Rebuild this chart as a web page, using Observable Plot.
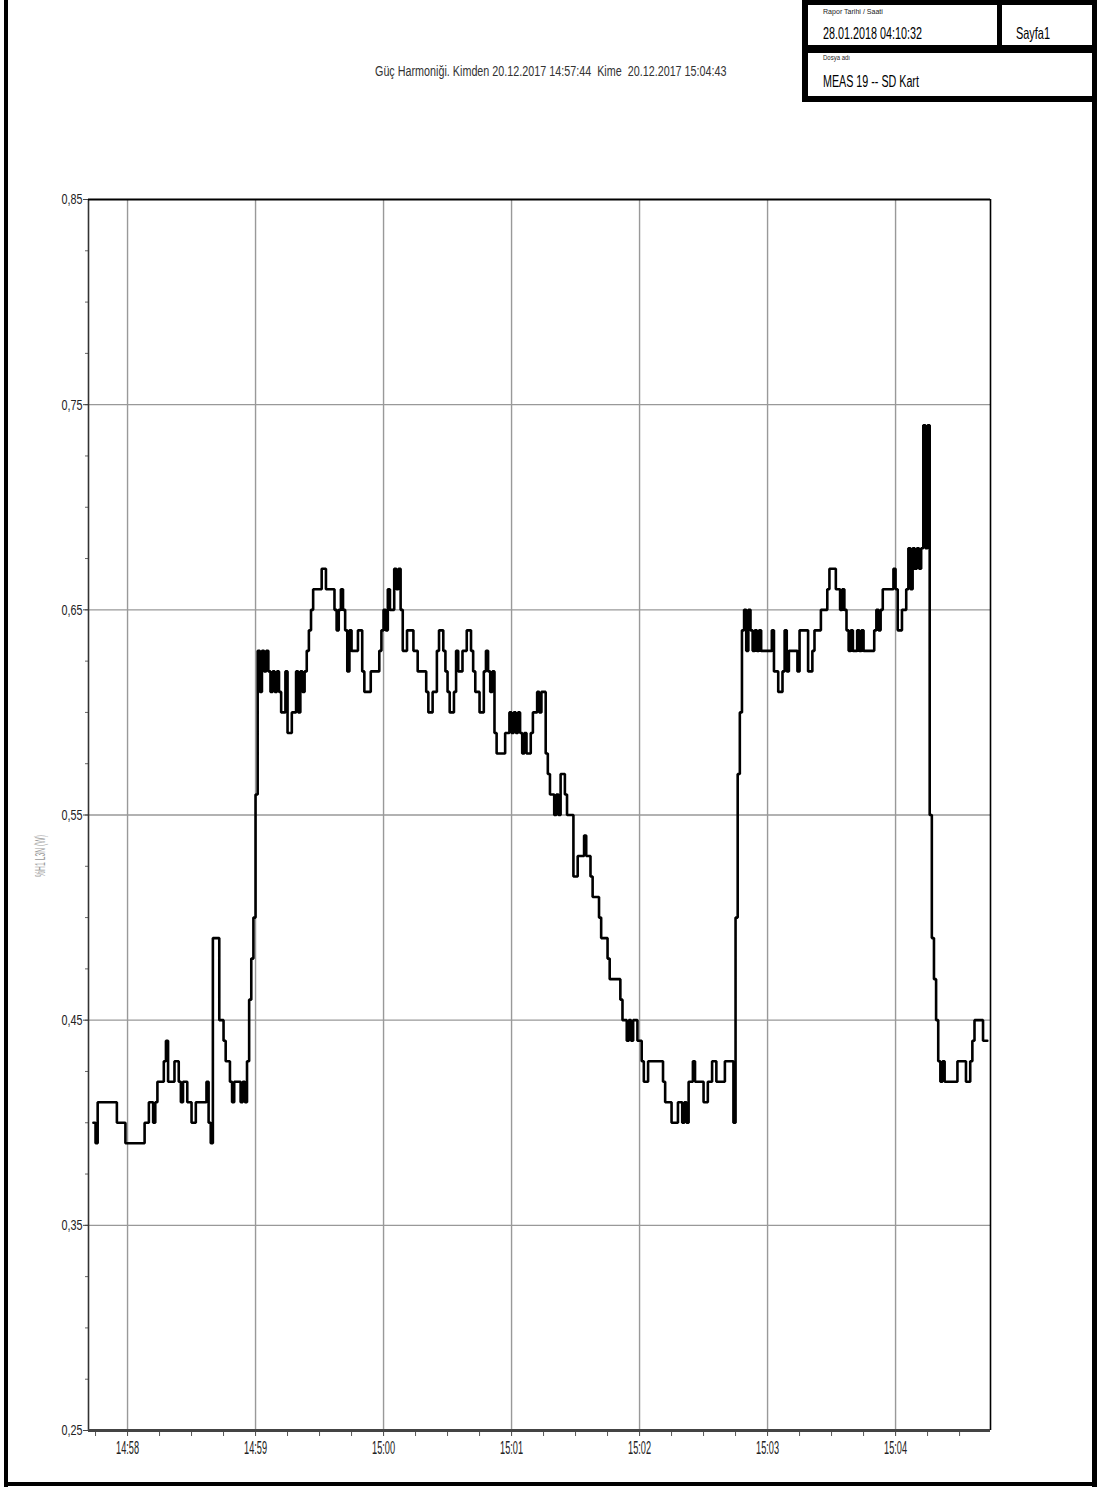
<!DOCTYPE html>
<html>
<head>
<meta charset="utf-8">
<script src="https://cdn.jsdelivr.net/npm/d3@7"></script>
<script src="https://cdn.jsdelivr.net/npm/@observablehq/plot@0.6"></script>
<style>
  html, body { margin: 0; padding: 0; background: #fff; }
  #page { position: relative; width: 1097px; height: 1488px; overflow: hidden; background: #fff; }
  #page svg { position: absolute; }
</style>
</head>
<body>
<div id="page"></div>
<script>
// ---------------- DATA ----------------
const titleText = "Güç Harmoniği. Kimden 20.12.2017 14:57:44  Kime  20.12.2017 15:04:43";
const reportLabel = "Rapor Tarihi / Saati";
const reportDate = "28.01.2018 04:10:32";
const pageLabel = "Sayfa1";
const fileLabel = "Dosya adı";
const fileName = "MEAS 19 -- SD Kart";
const yAxisTitle = "%H1 L3N (W)";

// seconds after 14:57:44 at which the value changes (step series), and the value
const secs = [0,1,2,11,15,24,26,28,29,30,33,34,35,38,40,41,42,44,46,48,53,54,55,56,59,61,62,64,65,66,69,70,71,72,73,74,75,76,77,78,79,80,81,82,83,84,85,86,87,88,90,91,93,95,96,97,98,99,100,101,102,103,107,109,113,114,115,116,117,118,119,120,121,124,126,127,130,134,135,136,137,138,139,141,142,143,144,145,147,150,152,156,157,159,161,162,164,165,166,167,169,170,171,173,175,177,178,179,181,183,184,185,186,187,188,189,193,195,196,197,198,199,200,201,202,203,205,206,208,209,210,212,213,214,216,217,218,219,221,222,225,227,230,231,233,234,237,238,241,242,247,248,250,251,252,253,255,257,258,260,267,268,271,274,276,277,278,279,281,282,286,288,290,292,296,300,301,302,303,304,305,306,307,308,309,310,311,312,313,318,319,321,323,324,325,326,330,331,335,337,338,341,344,345,348,350,351,352,353,354,355,356,358,359,360,361,366,367,368,369,370,375,376,377,379,381,382,383,384,385,386,387,388,389,390,391,392,393,394,395,396,397,398,399,405,409,411,412,413,417,419];
const vals = [0.40,0.39,0.41,0.40,0.39,0.40,0.41,0.40,0.41,0.42,0.43,0.44,0.42,0.43,0.42,0.41,0.42,0.41,0.40,0.41,0.42,0.40,0.39,0.49,0.45,0.44,0.43,0.42,0.41,0.42,0.41,0.42,0.41,0.43,0.46,0.48,0.50,0.56,0.63,0.61,0.63,0.62,0.63,0.62,0.61,0.62,0.61,0.62,0.61,0.60,0.62,0.59,0.60,0.62,0.60,0.62,0.61,0.62,0.63,0.64,0.65,0.66,0.67,0.66,0.65,0.64,0.65,0.66,0.65,0.64,0.62,0.64,0.63,0.64,0.62,0.61,0.62,0.63,0.64,0.65,0.64,0.66,0.65,0.67,0.66,0.67,0.65,0.63,0.64,0.63,0.62,0.61,0.60,0.61,0.63,0.64,0.63,0.62,0.61,0.60,0.61,0.63,0.62,0.63,0.64,0.63,0.62,0.61,0.60,0.62,0.63,0.62,0.61,0.62,0.59,0.58,0.59,0.60,0.59,0.60,0.59,0.60,0.59,0.58,0.59,0.58,0.59,0.60,0.61,0.60,0.61,0.58,0.57,0.56,0.55,0.56,0.55,0.57,0.56,0.55,0.52,0.53,0.54,0.53,0.52,0.51,0.50,0.49,0.48,0.47,0.46,0.45,0.44,0.45,0.44,0.45,0.44,0.43,0.42,0.43,0.42,0.41,0.40,0.41,0.40,0.41,0.40,0.42,0.43,0.42,0.41,0.42,0.43,0.42,0.43,0.40,0.50,0.57,0.60,0.64,0.65,0.63,0.65,0.64,0.63,0.64,0.63,0.64,0.63,0.64,0.62,0.61,0.62,0.64,0.62,0.63,0.62,0.64,0.62,0.63,0.64,0.65,0.66,0.67,0.66,0.65,0.66,0.65,0.64,0.63,0.64,0.63,0.64,0.63,0.64,0.63,0.64,0.65,0.64,0.65,0.66,0.67,0.66,0.64,0.65,0.66,0.68,0.66,0.68,0.67,0.68,0.67,0.68,0.74,0.68,0.74,0.55,0.49,0.47,0.45,0.43,0.42,0.43,0.42,0.43,0.42,0.43,0.44,0.45,0.44,0.44];

const xTickLabels = ["14:58","14:59","15:00","15:01","15:02","15:03","15:04"];
const yTickValues = [0.25,0.35,0.45,0.55,0.65,0.75,0.85];
const yTickLabels = ["0,25","0,35","0,45","0,55","0,65","0,75","0,85"];
const yGridValues = [0.35,0.45,0.55,0.65,0.75];
const xDomainSecs = [-2.3, 420.5];   // visible time span around the record
const yDomain = [0.25, 0.85];

// ---------------- BUILD ----------------
const base = Date.UTC(2017, 11, 20, 14, 57, 44);
const toDate = s => new Date(base + s * 1000);
const series = secs.map((s, i) => ({t: toDate(s), v: vals[i]}));
const minuteDates = xTickLabels.map(l => { const [h, m] = l.split(":").map(Number); return new Date(Date.UTC(2017, 11, 20, h, m)); });
const xDomain = xDomainSecs.map(toDate);
const quarterDates = d3.utcSecond.every(15).range(xDomain[0], xDomain[1]);
const minorY = d3.range(0, 25).map(i => +(0.25 + i * 0.025).toFixed(3));
const yLabelOf = new Map(yTickValues.map((v, i) => [v, yTickLabels[i]]));
const xLabelOf = new Map(minuteDates.map((d, i) => [+d, xTickLabels[i]]));

const FONT = "'Liberation Sans Narrow', 'Arial Narrow', 'Liberation Sans', Arial, sans-serif";

const chart = Plot.plot({
  width: 1097,
  height: 1330,
  marginLeft: 88,
  marginRight: 107,
  marginTop: 49,
  marginBottom: 50,
  style: {background: "transparent", fontFamily: FONT, color: "#333"},
  x: {type: "utc", domain: xDomain, label: null},
  y: {domain: yDomain, label: null},
  marks: [
    Plot.gridY(yGridValues, {stroke: "#999", strokeOpacity: 1, strokeWidth: 1.4}),
    Plot.gridX(minuteDates, {stroke: "#999", strokeOpacity: 1, strokeWidth: 1.4}),
    Plot.axisY(minorY, {tickSize: 3, tickFormat: () => "", stroke: "#666", label: null}),
    Plot.axisY(yTickValues, {tickSize: 5, tickPadding: 1, tickFormat: d => yLabelOf.get(+d.toFixed(2)), fontSize: 15.5, stroke: "#444", fill: "#222", label: null}),
    Plot.axisX(quarterDates, {tickSize: 6, tickFormat: () => "", stroke: "#555", label: null}),
    Plot.axisX(minuteDates, {tickSize: 6, tickPadding: 5, tickFormat: d => xLabelOf.get(+d), fontSize: 18, stroke: "#555", fill: "#222", label: null}),
    Plot.ruleX([xDomain[0]], {stroke: "#333", strokeWidth: 1.6}),
    Plot.ruleX([xDomain[1]], {stroke: "#000", strokeWidth: 1.6}),
    Plot.ruleY([yDomain[1]], {stroke: "#000", strokeWidth: 2}),
    Plot.line(series, {x: "t", y: "v", curve: "step-after", stroke: "#000", strokeWidth: 2.6, strokeLinejoin: "miter"}),
    Plot.ruleY([yDomain[0]], {stroke: "#444", strokeWidth: 3})
  ]
});
chart.style.left = "0px";
chart.style.top = "150px";
document.getElementById("page").appendChild(chart);

// condensed look of the original tick labels
chart.querySelectorAll('g[aria-label="y-axis tick label"] text').forEach(t => {
  if (t.textContent) { t.setAttribute("textLength", 21); t.setAttribute("lengthAdjust", "spacingAndGlyphs"); }
});
chart.querySelectorAll('g[aria-label="x-axis tick label"] text').forEach(t => {
  if (t.textContent) { t.setAttribute("textLength", 23); t.setAttribute("lengthAdjust", "spacingAndGlyphs"); }
});

// ---------------- PAGE FRAME, HEADER, TITLE ----------------
const NS = "http://www.w3.org/2000/svg";
const over = document.createElementNS(NS, "svg");
over.setAttribute("width", 1097); over.setAttribute("height", 1488);
over.style.left = "0px"; over.style.top = "0px";
document.getElementById("page").appendChild(over);
function rect(x, y, w, h, fill) {
  const r = document.createElementNS(NS, "rect");
  r.setAttribute("x", x); r.setAttribute("y", y); r.setAttribute("width", w); r.setAttribute("height", h);
  r.setAttribute("fill", fill); over.appendChild(r); return r;
}
// text squeezed horizontally (scale transform) to a given width, like the condensed original
function text(str, x, y, size, len, fill, rotate) {
  const t = document.createElementNS(NS, "text");
  t.setAttribute("x", 0); t.setAttribute("y", 0);
  t.setAttribute("font-size", size); t.setAttribute("font-family", FONT);
  t.setAttribute("fill", fill || "#000");
  t.style.whiteSpace = "pre";
  t.textContent = str; over.appendChild(t);
  const natural = t.getComputedTextLength() || len;
  const sx = len / natural;
  if (rotate) {
    t.setAttribute("text-anchor", "middle");
    t.setAttribute("transform", `translate(${x},${y}) rotate(-90) scale(${sx},1)`);
  } else {
    t.setAttribute("transform", `translate(${x},${y}) scale(${sx},1)`);
  }
  return t;
}
// page border
rect(4, 0, 4, 1487, "#000");
rect(4, 1482, 1093, 4, "#000");
rect(1092, 0, 5, 1487, "#000");
// header table
rect(802, 0, 295, 102, "#000");
rect(808, 5, 189, 40, "#fff");
rect(1002, 5, 90, 40, "#fff");
rect(808, 53, 284, 43, "#fff");
text(reportLabel, 823, 14, 6.5, 60, "#222");
text(reportDate, 823, 39, 16.5, 99, "#000");
text(pageLabel, 1016, 39, 16.5, 34, "#000");
text(fileLabel, 823, 60, 6.5, 27, "#222");
text(fileName, 823, 87, 16, 96, "#000");
// title
text(titleText, 375, 76, 15, 352, "#333");
// y-axis title
text(yAxisTitle, 45, 856, 14, 42, "#999", true);
</script>
</body>
</html>
